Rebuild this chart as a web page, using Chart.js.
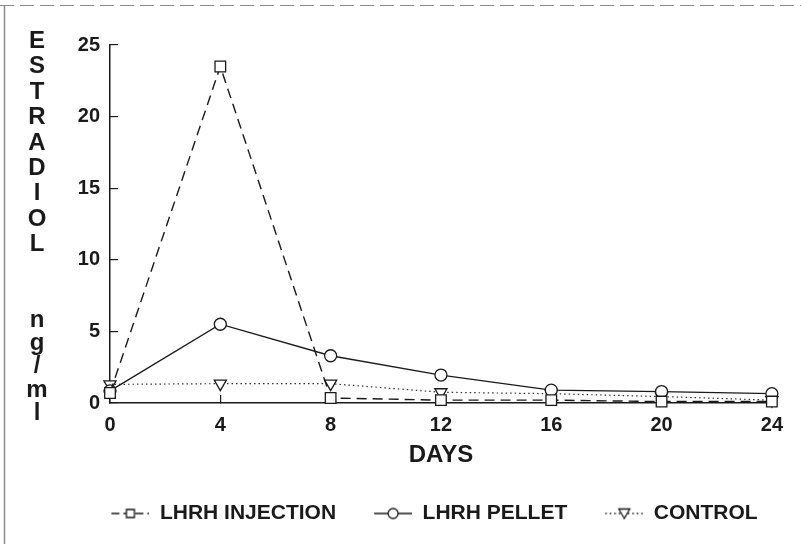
<!DOCTYPE html>
<html>
<head>
<meta charset="utf-8">
<title>Estradiol after LHRH treatment</title>
<script src="https://cdn.jsdelivr.net/npm/chart.js@4.4.0/dist/chart.umd.min.js"></script>
<style>
    html, body { margin: 0; padding: 0; background: #fff; }
    #wrap { width: 801px; height: 544px; }
</style>
</head>
<body>
<div id="wrap"><canvas id="estradiol-chart" width="801" height="544"></canvas></div>
<script>
// Data (ng/ml by day)
var days = [0, 4, 8, 12, 16, 20, 24];
var injection = [0.7, 23.5, 0.35, 0.2, 0.2, 0.1, 0.1];
var pellet = [0.85, 5.5, 3.3, 1.95, 0.9, 0.8, 0.65];
var control = [1.3, 1.35, 1.35, 0.75, 0.65, 0.45, 0.2];
var seriesNames = ['LHRH INJECTION', 'LHRH PELLET', 'CONTROL'];
var xTicks = [0, 4, 8, 12, 16, 20, 24];
var yTicks = [0, 5, 10, 15, 20, 25];
var xTitle = 'DAYS';
var yTitleWord = 'ESTRADIOL';
var yTitleUnit = 'ng/ml';

var INK = '#1a1a1a';
var FONT = '"Liberation Sans", Arial, Helvetica, sans-serif';

function toPoints(values) {
    return days.map(function(d, i) { return { x: d, y: values[i] }; });
}

/**
 * Small legend picture: a bit of the line with the marker on it.
 */
function legendSymbol(dash, marker) {
    var c = document.createElement('canvas');
    c.width = 66;
    c.height = 18;
    var g = c.getContext('2d');
    g.strokeStyle = INK;
    g.lineWidth = 1.3;
    g.setLineDash(dash);
    g.beginPath();
    g.moveTo(28, 9);
    g.lineTo(66, 9);
    g.stroke();
    g.setLineDash([]);
    g.fillStyle = '#fff';
    g.beginPath();
    if (marker === 'rect') {
        g.rect(43, 5, 8, 8);
    } else if (marker === 'circle') {
        g.arc(47, 9, 5, 0, Math.PI * 2);
    } else {
        g.moveTo(41.5, 4.5);
        g.lineTo(52.5, 4.5);
        g.lineTo(47, 14);
        g.closePath();
    }
    g.fill();
    g.stroke();
    return c;
}

var legendPics = [
    legendSymbol([8, 4], 'rect'),
    legendSymbol([], 'circle'),
    legendSymbol([1.5, 3], 'triangle')
];

// Frame of the scanned page and the stacked y title
var pagePlugin = {
    id: 'pagePlugin',
    beforeDraw: function(chart) {
        var ctx = chart.ctx;
        ctx.save();
        ctx.fillStyle = '#fff';
        ctx.fillRect(0, 0, chart.width, chart.height);
        ctx.strokeStyle = '#8a8a8a';
        ctx.lineWidth = 1.5;
        ctx.beginPath();
        ctx.moveTo(4.5, 6);
        ctx.lineTo(4.5, chart.height);
        ctx.stroke();
        ctx.setLineDash([14, 6]);
        ctx.lineWidth = 1;
        ctx.beginPath();
        ctx.moveTo(0, 5.5);
        ctx.lineTo(chart.width, 5.5);
        ctx.stroke();
        ctx.restore();
    },
    afterDraw: function(chart) {
        var ctx = chart.ctx;
        var area = chart.chartArea;
        var i;
        ctx.save();
        ctx.fillStyle = INK;
        ctx.textAlign = 'center';
        ctx.textBaseline = 'alphabetic';
        ctx.font = 'bold 24px ' + FONT;
        for (i = 0; i < yTitleWord.length; i++) {
            ctx.fillText(yTitleWord[i], 37, area.top + 3 + i * 25.4);
        }
        for (i = 0; i < yTitleUnit.length; i++) {
            ctx.fillText(yTitleUnit[i], 37, area.bottom - 76 + i * 23.2);
        }
        ctx.restore();
    }
};

var ctx = document.getElementById('estradiol-chart').getContext('2d');

var estradiolChart = new Chart(ctx, {
    type: 'line',
    data: {
        datasets: [{
            label: seriesNames[0],
            data: toPoints(injection),
            borderColor: INK,
            borderWidth: 1.4,
            borderDash: [10, 6],
            pointStyle: 'rect',
            pointRadius: 7.5,
            pointBorderWidth: 1.3,
            pointBackgroundColor: '#fff',
            pointBorderColor: INK,
            clip: false
        }, {
            label: seriesNames[1],
            data: toPoints(pellet),
            borderColor: INK,
            borderWidth: 1.3,
            pointStyle: 'circle',
            pointRadius: 6,
            pointBorderWidth: 1.3,
            pointBackgroundColor: '#fff',
            pointBorderColor: INK,
            clip: false
        }, {
            label: seriesNames[2],
            data: toPoints(control),
            borderColor: '#333',
            borderWidth: 1.2,
            borderDash: [1.5, 3],
            pointStyle: 'triangle',
            pointRotation: 180,
            pointRadius: 7,
            pointBorderWidth: 1.3,
            pointBackgroundColor: '#fff',
            pointBorderColor: INK,
            clip: false
        }]
    },
    options: {
        responsive: false,
        animation: false,
        layout: {
            padding: { left: 60, right: 20, top: 45, bottom: 10 }
        },
        scales: {
            x: {
                type: 'linear',
                min: 0,
                max: 24,
                afterBuildTicks: function(scale) {
                    scale.ticks = xTicks.map(function(v) { return { value: v }; });
                },
                afterFit: function(scale) { scale.height = 90; },
                border: { display: true, color: INK, width: 1.5 },
                grid: { drawOnChartArea: false, drawTicks: true, tickLength: -8, color: INK, lineWidth: 1.2 },
                ticks: { padding: 18, color: INK, font: { family: FONT, size: 20, weight: 'bold' } },
                title: {
                    display: true,
                    text: xTitle,
                    color: INK,
                    padding: { top: 0, bottom: 23 },
                    font: { family: FONT, size: 24, weight: 'bold' }
                }
            },
            y: {
                min: 0,
                max: 25,
                afterBuildTicks: function(scale) {
                    scale.ticks = yTicks.map(function(v) { return { value: v }; });
                },
                afterFit: function(scale) { scale.width = 50; },
                border: { display: true, color: INK, width: 1.5 },
                grid: { drawOnChartArea: false, drawTicks: true, tickLength: -8, color: INK, lineWidth: 1.2 },
                ticks: { padding: 18, color: INK, font: { family: FONT, size: 20, weight: 'bold' } }
            }
        },
        plugins: {
            legend: {
                position: 'bottom',
                labels: {
                    usePointStyle: true,
                    pointStyleWidth: 66,
                    boxHeight: 18,
                    padding: 10,
                    color: INK,
                    font: { family: FONT, size: 21, weight: 'bold' },
                    generateLabels: function(chart) {
                        var items = Chart.defaults.plugins.legend.labels.generateLabels(chart);
                        items.forEach(function(item, i) {
                            item.pointStyle = legendPics[i];
                            item.rotation = 0;
                        });
                        return items;
                    }
                }
            },
            tooltip: { enabled: false }
        }
    },
    plugins: [pagePlugin]
});
</script>
</body>
</html>
